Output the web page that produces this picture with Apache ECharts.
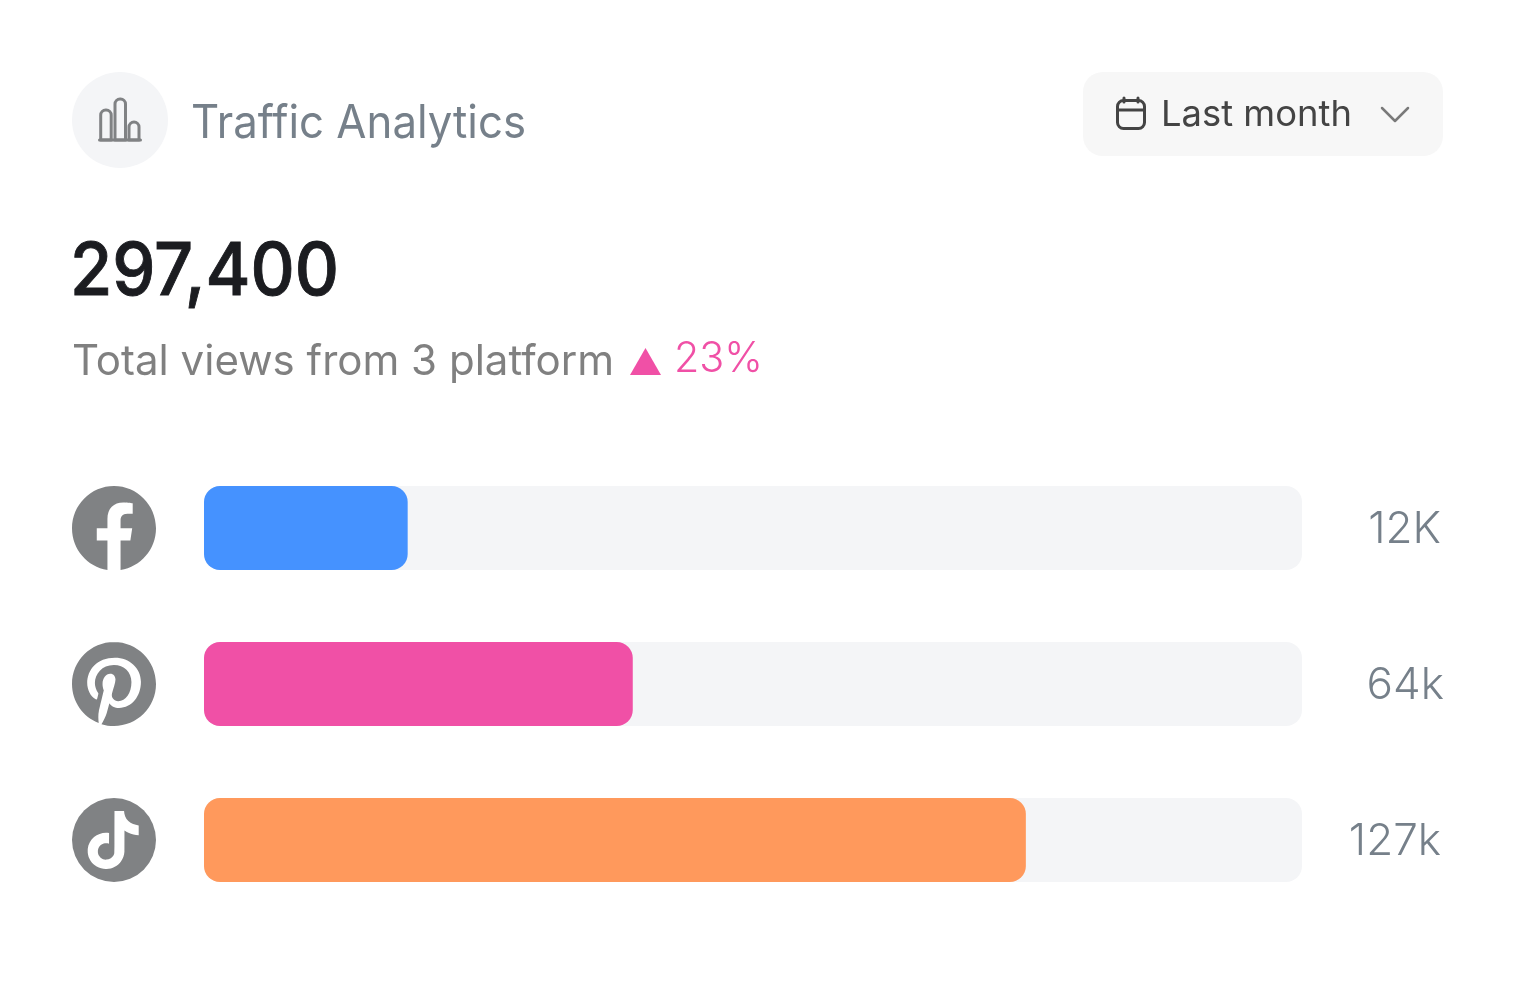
<!DOCTYPE html>
<html>
<head>
<meta charset="utf-8">
<style>html,body{margin:0;padding:0;background:#fff}#c{width:1518px;height:996px}</style>
<script src="https://cdn.jsdelivr.net/npm/echarts@6/dist/echarts.min.js"></script>
</head>
<body>
<div id="c"></div>
<script>
const platforms = ['Facebook', 'Pinterest', 'TikTok'];
const barShare = [18.55, 39.05, 74.85];
const barLabels = ['12K', '64k', '127k'];
const barColors = ['#4592FF', '#F050A6', '#FF995C'];
const titleText = 'Traffic Analytics';
const rangeText = 'Last month';
const totalText = '297,400';
const subText = 'Total views from 3 platform';
const deltaText = '23%';

const facebookIcon = 'M24 12.073c0-6.627-5.373-12-12-12s-12 5.373-12 12c0 5.99 4.388 10.954 10.125 11.854v-8.385H7.078v-3.47h3.047V9.43c0-3.007 1.792-4.669 4.533-4.669 1.312 0 2.686.235 2.686.235v2.953H15.83c-1.491 0-1.956.925-1.956 1.874v2.25h3.328l-.532 3.47h-2.796v8.385C19.612 23.027 24 18.062 24 12.073z';
const pinterestIcon = 'M12.017 0C5.396 0 .029 5.367.029 11.987c0 5.079 3.158 9.417 7.618 11.162-.105-.949-.199-2.403.041-3.439.219-.937 1.406-5.957 1.406-5.957s-.359-.72-.359-1.781c0-1.663.967-2.911 2.168-2.911 1.024 0 1.518.769 1.518 1.688 0 1.029-.653 2.567-.992 3.992-.285 1.193.6 2.165 1.775 2.165 2.128 0 3.768-2.245 3.768-5.487 0-2.861-2.063-4.869-5.008-4.869-3.41 0-5.409 2.562-5.409 5.199 0 1.033.394 2.143.889 2.741.099.12.112.225.085.345-.09.375-.293 1.199-.334 1.363-.053.225-.172.271-.401.165-1.495-.69-2.433-2.878-2.433-4.646 0-3.776 2.748-7.252 7.92-7.252 4.158 0 7.392 2.967 7.392 6.923 0 4.135-2.607 7.462-6.233 7.462-1.214 0-2.354-.629-2.758-1.379l-.749 2.848c-.269 1.045-1.004 2.352-1.498 3.146 1.123.345 2.306.535 3.55.535 6.607 0 11.985-5.365 11.985-11.987C23.97 5.39 18.592.026 11.985.026L12.017 0z';
const tiktokNote = 'M12.525.02c1.31-.02 2.61-.01 3.91-.02.08 1.53.63 3.09 1.75 4.17 1.12 1.11 2.7 1.62 4.24 1.79v4.03c-1.44-.05-2.89-.35-4.2-.97-.57-.26-1.1-.59-1.62-.93-.01 2.92.01 5.84-.02 8.75-.08 1.4-.54 2.79-1.35 3.94-1.31 1.92-3.58 3.17-5.91 3.21-1.43.08-2.86-.31-4.08-1.03-2.02-1.19-3.44-3.37-3.65-5.71-.02-.5-.03-1-.01-1.49.18-1.9 1.12-3.72 2.58-4.96 1.66-1.44 3.98-2.13 6.15-1.72.02 1.48-.04 2.96-.04 4.44-.99-.32-2.15-.23-3.02.37-.63.41-1.11 1.04-1.36 1.75-.21.51-.15 1.07-.14 1.61.24 1.64 1.82 3.02 3.5 2.87 1.12-.01 2.19-.66 2.77-1.61.19-.33.4-.67.41-1.06.1-1.79.06-3.57.07-5.36.01-4.03-.01-8.05.02-12.07z';

const FONT = 'Inter';
const GREY = '#808284';
const TRACK = '#F4F5F7';
const measure = document.createElement('canvas').getContext('2d');
function fitText(text, size, weight, color, x0, x1, yMid, outline) {
  measure.font = weight + ' ' + size + 'px ' + FONT;
  const w = measure.measureText(text).width;
  const style = { text: text, x: 0, y: 0, fill: color, fontFamily: FONT, fontSize: size, fontWeight: weight, verticalAlign: 'middle', align: 'left' };
  if (outline) { style.stroke = color; style.lineWidth = outline; }
  return { type: 'text', x: x0, y: yMid, scaleX: (x1 - x0) / w, silent: true, style: style };
}
function strokeStyle(c, w) { return { fill: 'none', stroke: c, lineWidth: w, lineCap: 'round', lineJoin: 'round' }; }

const graphics = [
  { type: 'circle', shape: { cx: 120, cy: 120, r: 48 }, style: { fill: TRACK } },
  { type: 'rect', shape: { x: 100.7, y: 110, width: 10.5, height: 30, r: [5, 5, 0, 0] }, style: strokeStyle(GREY, 3) },
  { type: 'rect', shape: { x: 115, y: 99, width: 10.5, height: 41, r: [5, 5, 0, 0] }, style: strokeStyle(GREY, 3) },
  { type: 'rect', shape: { x: 129, y: 122, width: 10, height: 18, r: [5, 5, 0, 0] }, style: strokeStyle(GREY, 3) },
  { type: 'line', shape: { x1: 99.5, y1: 140, x2: 140.5, y2: 140 }, style: { stroke: GREY, lineWidth: 3, lineCap: 'round' } },
  fitText(titleText, 46, 400, '#76808A', 191, 526, 124),
  { type: 'rect', shape: { x: 1083, y: 72, width: 360, height: 84, r: 20 }, style: { fill: '#F7F7F7' } },
  { type: 'rect', shape: { x: 1117.5, y: 100.5, width: 27, height: 28, r: 6 }, style: strokeStyle('#444', 3) },
  { type: 'line', shape: { x1: 1118, y1: 110, x2: 1144, y2: 110 }, style: { stroke: '#444', lineWidth: 3 } },
  { type: 'line', shape: { x1: 1124, y1: 98, x2: 1124, y2: 102 }, style: { stroke: '#444', lineWidth: 3, lineCap: 'round' } },
  { type: 'line', shape: { x1: 1138, y1: 98, x2: 1138, y2: 102 }, style: { stroke: '#444', lineWidth: 3, lineCap: 'round' } },
  fitText(rangeText, 36, 400, '#444444', 1161, 1352, 115),
  { type: 'polyline', shape: { points: [[1382, 108], [1395, 121], [1408, 108]] }, style: strokeStyle('#7A7A7A', 2.5) },
  fitText(totalText, 73, 500, '#1B1C20', 70, 339, 273, 0.9),
  fitText(subText, 42, 400, '#808080', 72, 614, 362),
  { type: 'polygon', shape: { points: [[645.5, 348], [661, 375], [630, 375]] }, style: { fill: '#F050A6' } },
  fitText(deltaText, 42, 300, '#F050A6', 674, 763, 359)
];

const iconData = [[0, 0], [0, 1], [0, 2]];

const chart = echarts.init(document.getElementById('c'), null, { renderer: 'canvas' });
chart.setOption({
  animation: false,
  backgroundColor: '#ffffff',
  grid: { left: 204, top: 450, width: 1098, height: 468, containLabel: false },
  xAxis: { type: 'value', min: 0, max: 100, show: false },
  yAxis: { type: 'category', inverse: true, data: platforms, show: false },
  series: [{
    type: 'bar',
    barWidth: 84,
    showBackground: true,
    backgroundStyle: { color: TRACK, borderRadius: 16 },
    itemStyle: { borderRadius: 16 },
    data: barShare.map((v, i) => ({ value: v, itemStyle: { color: barColors[i], borderRadius: 16 } }))
  }, {
    type: 'custom',
    clip: false,
    silent: true,
    data: iconData,
    encode: { x: 0, y: 1 },
    renderItem: function (params, api) {
      const i = params.dataIndex;
      const p = api.coord([api.value(0), api.value(1)]);
      const cx = p[0] - 90, cy = p[1];
      const box = (pathData, w, h, fill, dx) => ({
        type: 'path',
        shape: { pathData: pathData, layout: 'cover', x: cx - w / 2 + (dx || 0), y: cy - h / 2, width: w, height: h },
        style: { fill: fill }
      });
      const label = {
        type: 'text',
        x: p[0] + 1098 + 139 + (i === 1 ? 3 : 0),
        y: cy + 2,
        style: { text: barLabels[i], align: 'right', verticalAlign: 'middle', fill: '#76808A', fontFamily: FONT, fontSize: 44, fontWeight: 300 }
      };
      let icon;
      if (i === 0) icon = [box(facebookIcon, 84, 84, GREY)];
      else if (i === 1) icon = [box(pinterestIcon, 84, 84, GREY)];
      else icon = [
        { type: 'circle', shape: { cx: cx, cy: cy, r: 42 }, style: { fill: GREY } },
        box(tiktokNote, 51, 58, '#ffffff', -0.8)
      ];
      return { type: 'group', children: icon.concat([label]) };
    }
  }],
  graphic: { elements: graphics }
});
</script>
</body>
</html>
